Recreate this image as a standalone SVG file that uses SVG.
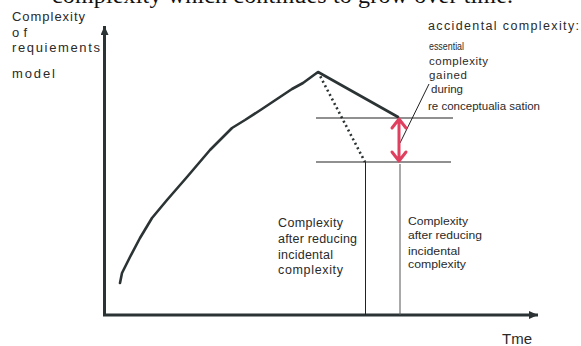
<svg xmlns="http://www.w3.org/2000/svg" width="581" height="346" viewBox="0 0 581 346">
<style>
.lbl{font-family:"Liberation Sans",Arial,sans-serif;fill:#2a2a2a;}
.axis{stroke:#2b3334;stroke-width:3;fill:none;}
.thick{stroke:#2b3334;stroke-width:2.6;fill:none;stroke-linejoin:round;stroke-linecap:round;}
.thin{stroke:#222;stroke-width:1.2;fill:none;}
.red{stroke:#e0405f;stroke-width:3;fill:none;stroke-linecap:round;stroke-linejoin:round;}
</style>
<defs>
<marker id="ah" markerWidth="10" markerHeight="8" refX="9" refY="4" orient="auto" markerUnits="userSpaceOnUse">
<path d="M0,0 L9,4 L0,8 Z" fill="#2b3334"/>
</marker>
</defs>
<text x="52" y="3" textLength="461" style="font-family:'Liberation Serif','Times New Roman',serif;font-size:24px;fill:#111">complexity which continues to grow over time.</text>
<g id="axes">
<line class="axis" x1="104.5" y1="315" x2="104.5" y2="26" marker-end="url(#ah)"/>
<line class="axis" x1="103" y1="315" x2="538" y2="315" marker-end="url(#ah)"/>
</g>
<g id="connectors">
<path class="thick" d="M120,283 L122,273 L130,257 L140,238 L152,218 L167,200 L187,177 L210,150 L232,128 L245,120 L262,109 L277,99 L292,89 L303,83 L318,72 L398,117"/>
<path d="M318,72 L365,162" stroke="#2b3334" stroke-width="2.6" stroke-dasharray="2,3" fill="none"/>
<line class="thin" x1="316" y1="118" x2="453" y2="118"/>
<line class="thin" x1="316" y1="162" x2="451" y2="162"/>
<line x1="365.5" y1="162" x2="365.5" y2="315" stroke="#222" stroke-width="1"/>
<line x1="400" y1="164" x2="400" y2="315" stroke="#555" stroke-width="1"/>
<line x1="400" y1="143" x2="429" y2="84" stroke="#222" stroke-width="1"/>
<path class="red" d="M399,120 L399,160 M392,128 L399,119 L406,128 M392,152 L399,161 L406,152"/>
</g>
<g id="y-label">
<text class="lbl" x="12" y="21" font-size="13" textLength="73">Complexity</text>
<text class="lbl" x="12" y="37" font-size="13" textLength="15">of</text>
<text class="lbl" x="12" y="52" font-size="13" textLength="88">requiements</text>
<text class="lbl" x="12" y="78" font-size="13" textLength="43">model</text>
</g>
<g id="accidental">
<text class="lbl" x="428" y="30" font-size="12.5" textLength="151">accidental complexity:</text>
<text class="lbl" x="429" y="50" font-size="11.5" textLength="35" lengthAdjust="spacingAndGlyphs">essential</text>
<text class="lbl" x="429" y="65" font-size="11.5" textLength="59">complexity</text>
<text class="lbl" x="429" y="79" font-size="11.5" textLength="38">gained</text>
<text class="lbl" x="431" y="93" font-size="11.5" textLength="32">during</text>
<text class="lbl" x="428" y="110" font-size="11.5" textLength="112">re conceptualia sation</text>
</g>
<g id="after-left">
<text class="lbl" x="278" y="227" font-size="12.5" textLength="65">Complexity</text>
<text class="lbl" x="278" y="243" font-size="12.5" textLength="79">after reducing</text>
<text class="lbl" x="278" y="259" font-size="12.5" textLength="55">incidental</text>
<text class="lbl" x="278" y="274" font-size="12.5" textLength="65">complexity</text>
</g>
<g id="after-right">
<text class="lbl" x="408" y="225" font-size="11.5" textLength="60" lengthAdjust="spacingAndGlyphs">Complexity</text>
<text class="lbl" x="408" y="239" font-size="11.5" textLength="74" lengthAdjust="spacingAndGlyphs">after reducing</text>
<text class="lbl" x="408" y="255" font-size="11.5" textLength="52" lengthAdjust="spacingAndGlyphs">incidental</text>
<text class="lbl" x="408" y="268" font-size="11.5" textLength="58" lengthAdjust="spacingAndGlyphs">complexity</text>
</g>
<g id="x-label">
<text class="lbl" x="502" y="344" font-size="15" textLength="30">Tme</text>
</g>
</svg>
